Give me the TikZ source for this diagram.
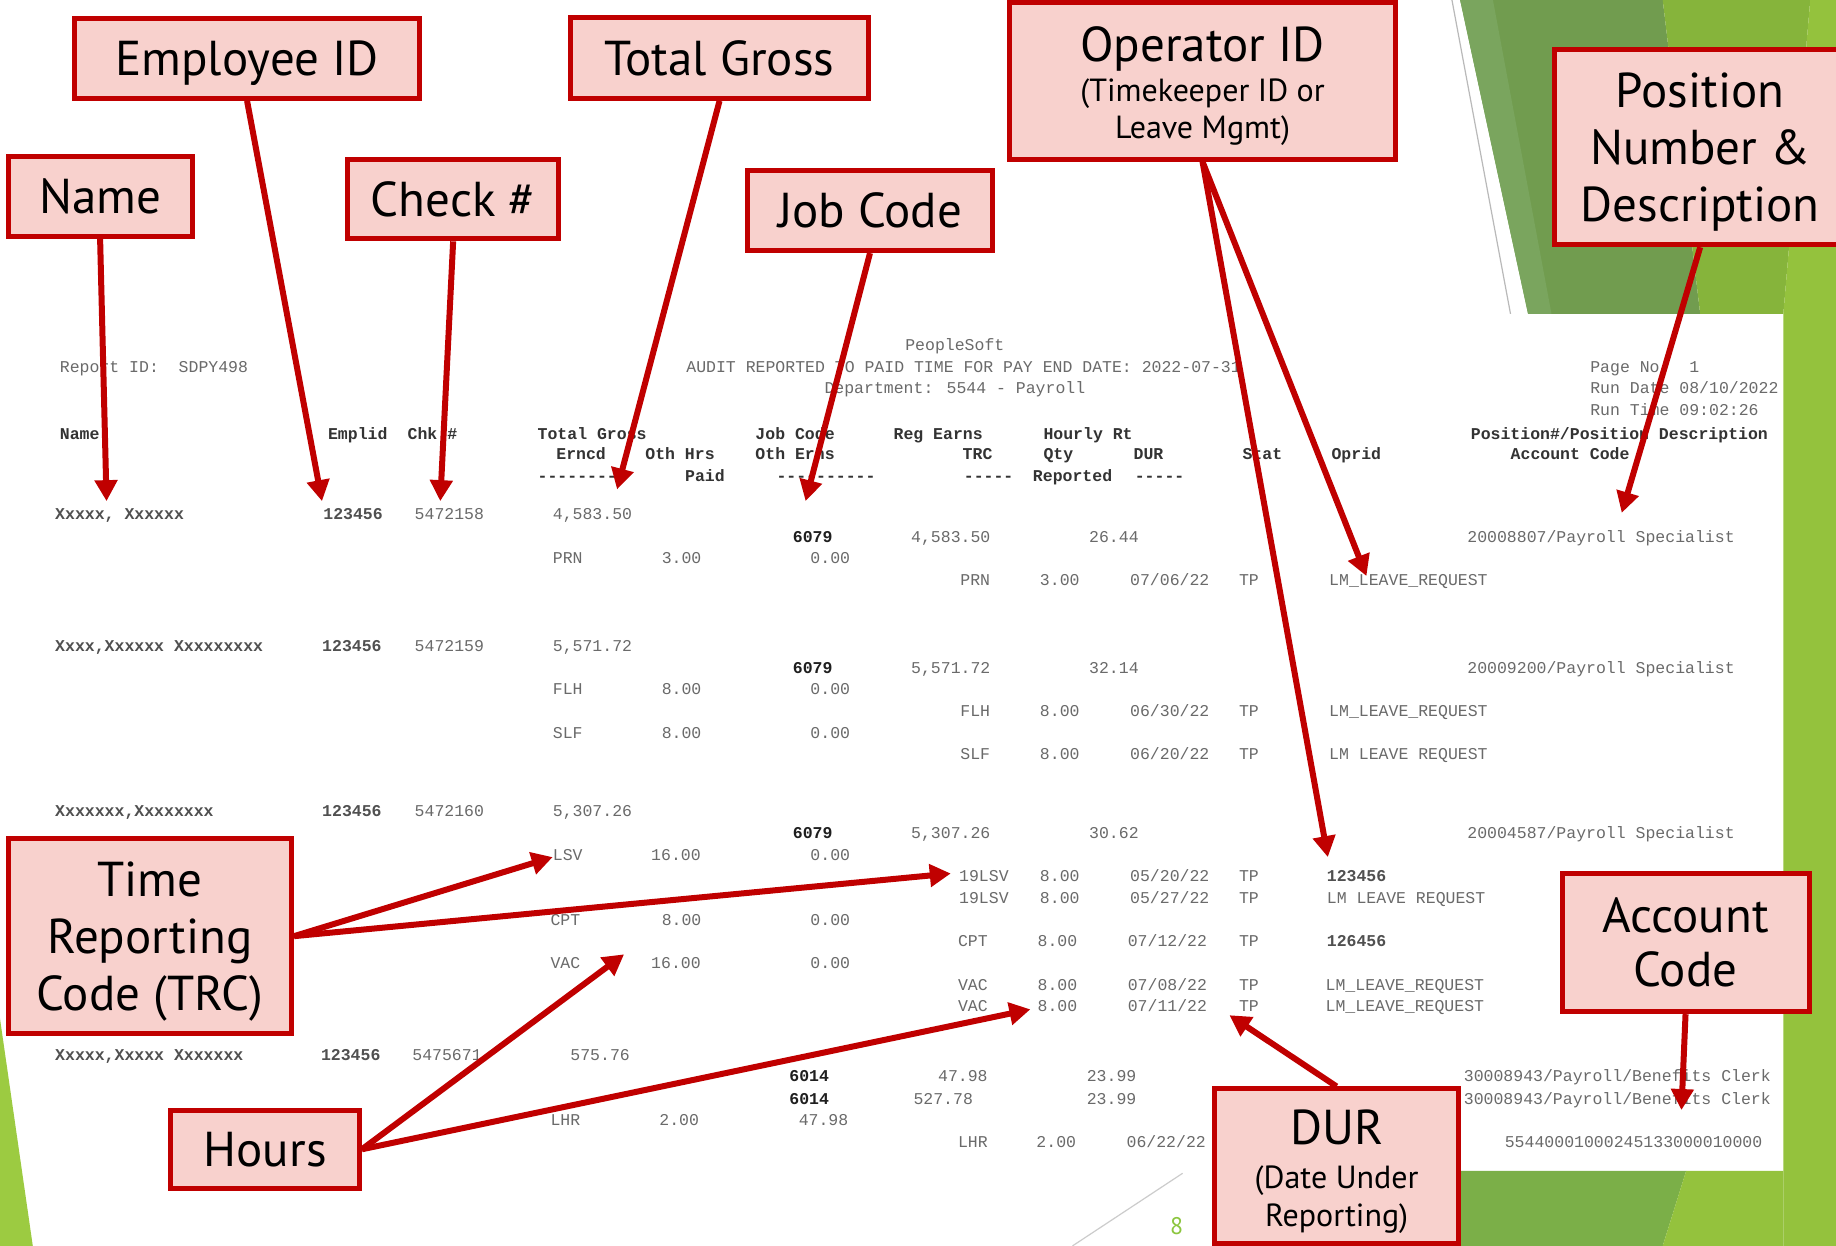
\documentclass[tikz,border=0pt]{standalone}
\usepackage{fontspec}
\setmainfont{PT Sans}
\newfontfamily\repfont{Liberation Mono}
\usetikzlibrary{arrows.meta}
\definecolor{dred}{HTML}{C00000}
\definecolor{pinkf}{HTML}{F8D1CD}
\definecolor{repgray}{HTML}{6A6A6A}
\definecolor{repdark}{HTML}{333333}
\definecolor{repval}{HTML}{1F1F1F}
\definecolor{idgray}{HTML}{505050}
\definecolor{dkgreen}{HTML}{719C4F}
\definecolor{dkgreenlt}{HTML}{7AA55E}
\definecolor{midgreen}{HTML}{86B43B}
\definecolor{ltgreen}{HTML}{94C23D}
\definecolor{btgreen}{HTML}{7BAF48}
\definecolor{lfgreen}{HTML}{9CCB41}
\definecolor{numgreen}{HTML}{8CC63F}
\newcommand\rf{\repfont\fontsize{16.5}{18}\selectfont}
\newcommand\cf{\fontsize{49}{57}\selectfont}
\newcommand\subf{\fontsize{32}{38}\selectfont}
\tikzset{
  callout/.style={draw=dred, fill=pinkf, line width=5pt, inner sep=0pt, align=center, font=\cf, text=black},
  arr/.style={draw=dred, line width=6pt, -{Triangle[length=21pt,width=22pt]}},
  rep/.style={anchor=base west, inner sep=0pt, text=repgray, font=\rf},
  reph/.style={rep, text=repdark, font=\rf\bfseries},
  repv/.style={rep, text=repval, font=\rf\bfseries},
  repid/.style={rep, text=idgray, font=\rf\bfseries},
  lbl/.style={anchor=base, inner sep=0pt, text=black},
}
\begin{document}
\begin{tikzpicture}[x=1.1709pt, y=-1.1709pt]
\useasboundingbox (0,0) rectangle (1568,1064);
\clip (0,0) rectangle (1568,1064);
\fill[white] (0,0) rectangle (1568,1064);
% slide decoration
\fill[dkgreen] (1247,0) -- (1420,0) -- (1452,268) -- (1305,268) -- cycle;
\fill[dkgreenlt] (1247,0) -- (1275,0) -- (1325,268) -- (1305,268) -- cycle;
\fill[midgreen] (1420,0) -- (1546,0) -- (1523,268) -- (1452,268) -- cycle;
\fill[ltgreen] (1546,0) -- (1568,0) -- (1568,1064) -- (1523,1064) -- (1523,268) -- cycle;
\fill[btgreen] (1150,1000) -- (1440,1000) -- (1420,1064) -- (1150,1064) -- cycle;
\fill[ltgreen] (1440,1000) -- (1523,1000) -- (1523,1064) -- (1420,1064) -- cycle;
\fill[lfgreen] (0,870) -- (28,1064) -- (0,1064) -- cycle;
\draw[gray!55, line width=1.2pt] (1240,0) -- (1290,268);
\draw[gray!40, line width=1.2pt] (1010,1002) -- (916,1064);
\node[inner sep=0pt, text=numgreen, font=\fontsize{24}{28}\selectfont] (pnum) at (1005,1047) {8};

% report header
\foreach \px/\py/\tx [count=\i] in {
  773/295/{PeopleSoft},
  51/314/{Report ID:~~SDPY498},
  586/314/{AUDIT REPORTED TO PAID TIME FOR PAY END DATE: 2022-07-31},
  704/332/{Department: 5544 - Payroll},
  1358/314/{Page No:~~1},
  1358/332/{Run Date 08/10/2022},
  1358/351/{Run Time 09:02:26}}
  {\node[rep] (h\i) at (\px,\py+4) {\tx};}

\foreach \px/\py/\tx [count=\i] in {
  51/371/{Name}, 280/371/{Emplid}, 348/371/{Chk \#}, 459/371/{Total Gross},
  645/371/{Job Code}, 763/371/{Reg Earns}, 891/371/{Hourly Rt},
  1256/371/{Position\#/Position Description},
  475/388/{Erncd}, 551/388/{Oth Hrs}, 645/388/{Oth Erns}, 822/388/{TRC},
  891/388/{Qty}, 968/388/{DUR}, 1061/388/{Stat}, 1137/388/{Oprid},
  1290/388/{Account Code},
  459/407/{-{}-{}-{}-{}-{}-{}-{}-{}-}, 585/407/{Paid},
  663/407/{-{}-{}-{}-{}-{}-{}-{}-{}-{}-}, 823/407/{-{}-{}-{}-{}-},
  882/407/{Reported}, 969/407/{-{}-{}-{}-{}-}}
  {\node[reph] (c\i) at (\px,\py+4) {\tx};}

% names (obscured) and ids
\foreach \px/\py/\tx [count=\i] in {
  47/440/{Xxxxx, Xxxxxx}, 47/552/{Xxxx,Xxxxxx Xxxxxxxxx},
  47/693/{Xxxxxxx,Xxxxxxxx}, 47/902/{Xxxxx,Xxxxx Xxxxxxx},
  276/440/{123456}, 275/552/{123456}, 275/693/{123456}, 274/902/{123456},
  1133/749/{123456}, 1133/804/{126456}}
  {\node[repid] (d\i) at (\px,\py+4) {\tx};}

\foreach \px/\py/\tx [count=\i] in {
  677/459/{6079}, 677/571/{6079}, 677/712/{6079}, 674/920/{6014}, 674/939/{6014}}
  {\node[repv] (j\i) at (\px,\py+4) {\tx};}

\foreach \px/\py/\tx [count=\i] in {
  354/440/{5472158}, 472/440/{4{,}583.50},
  778/459/{4{,}583.50}, 930/459/{26.44}, 1253/459/{20008807/Payroll Specialist},
  472/477/{PRN}, 565/477/{3.00}, 692/477/{0.00},
  820/496/{PRN}, 888/496/{3.00}, 965/496/{07/06/22}, 1058/496/{TP}, 1135/496/{LM\_LEAVE\_REQUEST},
  354/552/{5472159}, 472/552/{5{,}571.72},
  778/571/{5{,}571.72}, 930/571/{32.14}, 1253/571/{20009200/Payroll Specialist},
  472/589/{FLH}, 565/589/{8.00}, 692/589/{0.00},
  820/608/{FLH}, 888/608/{8.00}, 965/608/{06/30/22}, 1058/608/{TP}, 1135/608/{LM\_LEAVE\_REQUEST},
  472/627/{SLF}, 565/627/{8.00}, 692/627/{0.00},
  820/645/{SLF}, 888/645/{8.00}, 965/645/{06/20/22}, 1058/645/{TP}, 1135/645/{LM LEAVE REQUEST},
  354/693/{5472160}, 472/693/{5{,}307.26},
  778/712/{5{,}307.26}, 930/712/{30.62}, 1253/712/{20004587/Payroll Specialist},
  472/731/{LSV}, 556/731/{16.00}, 692/731/{0.00},
  819/749/{19LSV}, 888/749/{8.00}, 965/749/{05/20/22}, 1058/749/{TP},
  819/768/{19LSV}, 888/768/{8.00}, 965/768/{05/27/22}, 1058/768/{TP}, 1133/768/{LM LEAVE REQUEST},
  470/786/{CPT}, 565/786/{8.00}, 692/786/{0.00},
  818/804/{CPT}, 886/804/{8.00}, 963/804/{07/12/22}, 1058/804/{TP},
  470/823/{VAC}, 556/823/{16.00}, 692/823/{0.00},
  818/842/{VAC}, 886/842/{8.00}, 963/842/{07/08/22}, 1058/842/{TP}, 1132/842/{LM\_LEAVE\_REQUEST},
  818/860/{VAC}, 886/860/{8.00}, 963/860/{07/11/22}, 1058/860/{TP}, 1132/860/{LM\_LEAVE\_REQUEST},
  352/902/{5475671}, 487/902/{575.76},
  801/920/{47.98}, 928/920/{23.99}, 1250/920/{30008943/Payroll/Benefits Clerk},
  780/939/{527.78}, 928/939/{23.99}, 1250/939/{30008943/Payroll/Benefits Clerk},
  470/957/{LHR}, 563/957/{2.00}, 682/957/{47.98},
  818/976/{LHR}, 885/976/{2.00}, 962/976/{06/22/22}, 1285/976/{55440001000245133000010000}}
  {\node[rep] (v\i) at (\px,\py+4) {\tx};}

% callouts
\node[callout, text depth=0pt, minimum width=344.2pt, minimum height=79.6pt] (emp) at (211,50) {Employee ID};
\node[callout, minimum width=298.6pt, minimum height=80.8pt] (tg) at (614.5,49.5) {Total Gross};
\node[callout, minimum width=386.4pt, minimum height=156.9pt] (op) at (1027,69) {};
\node[lbl, font=\cf] (opa) at (1027,52.6) {Operator ID};
\node[lbl, font=\subf] (opb) at (1027,86.6) {(Timekeeper ID or};
\node[lbl, font=\subf] (opc) at (1027,118.6) {Leave Mgmt)};
\node[callout, text depth=0pt, minimum width=290.4pt, minimum height=195.5pt] (pos) at (1452,125.5) {Position\\Number \&\\Description};
\node[callout, minimum width=183.8pt, minimum height=79.6pt] (nm) at (85.5,168) {Name};
\node[callout, minimum width=210.8pt, minimum height=79.6pt] (chk) at (387,170) {Check \#};
\node[callout, minimum width=245.9pt, minimum height=79.6pt] (jc) at (743,180) {Job Code};
\node[callout, text depth=0pt, minimum width=283.4pt, minimum height=195.5pt] (trc) at (128,799.5) {Time\\Reporting\\Code (TRC)};
\node[callout, minimum width=188.5pt, minimum height=78.4pt] (hrs) at (226.5,981.5) {Hours};
\node[callout, minimum width=247.1pt, minimum height=138.2pt, font=\fontsize{49}{54}\selectfont] (acc) at (1439.5,805) {Account\\Code};
\node[callout, minimum width=244.7pt, minimum height=154.6pt] (dur) at (1141.5,996) {};
\node[lbl, font=\cf] (dura) at (1141.5,977.6) {DUR};
\node[lbl, font=\subf] (durb) at (1141.5,1014.6) {(Date Under};
\node[lbl, font=\subf] (durc) at (1141.5,1047.6) {Reporting)};

% arrow targets
\coordinate (nmT) at (91,428);
\coordinate (empT) at (275,428);
\coordinate (chkT) at (376,428);
\coordinate (tgT) at (527,418);
\coordinate (jcT) at (688,428);
\coordinate (opT1) at (1167,492);
\coordinate (opT2) at (1134,732);
\coordinate (posT) at (1385,438);
\coordinate (trcT1) at (472,732);
\coordinate (trcT2) at (812,746);
\coordinate (hrsT1) at (533,815);
\coordinate (hrsT2) at (880,862);
\coordinate (durT) at (1050,867);
\coordinate (accT) at (1436,948);

\draw[arr] (nm.south) -- (nmT);
\draw[arr] (emp.south) -- (empT);
\draw[arr] (chk.south) -- (chkT);
\draw[arr] (tg.south) -- (tgT);
\draw[arr] (jc.south) -- (jcT);
\draw[arr] (op.south) -- (opT1);
\draw[arr] (op.south) -- (opT2);
\draw[arr] (pos.south) -- (posT);
\draw[arr] (trc.east) -- (trcT1);
\draw[arr] (trc.east) -- (trcT2);
\draw[arr] (hrs.east) -- (hrsT1);
\draw[arr] (hrs.east) -- (hrsT2);
\draw[arr] (dur.north) -- (durT);
\draw[arr] (acc.south) -- (accT);
\end{tikzpicture}
\end{document}
